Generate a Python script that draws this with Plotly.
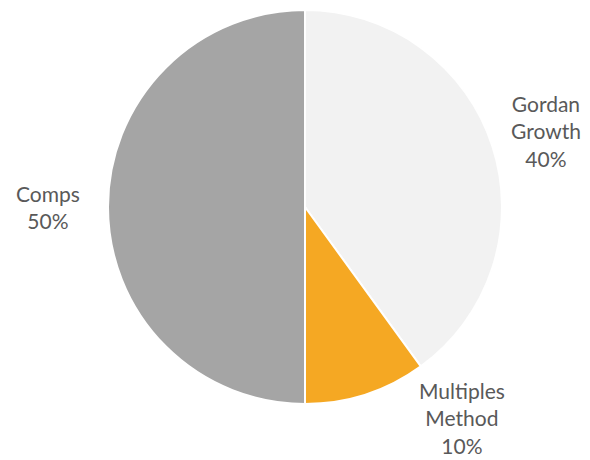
import plotly.graph_objects as go

labels = ["Gordan Growth", "Multiples Method", "Comps"]
label_lines = ["Gordan<br>Growth", "Multiples<br>Method", "Comps"]
values = [40, 10, 50]
colors = ["#F2F2F2", "#F5A823", "#A5A5A5"]

W, H = 590, 460
cx, cy, r = 305, 207, 197
# label anchor points (pixels) for outside labels
label_px = [(546, 131), (462, 418), (48, 207)]

fig = go.Figure(go.Pie(
    labels=labels, values=values, sort=False, direction="clockwise", rotation=0,
    marker=dict(colors=colors, line=dict(color="white", width=2)),
    textinfo="none", hoverinfo="label+percent", showlegend=False,
    domain=dict(x=[(cx - r) / W, (cx + r) / W], y=[1 - (cy + r) / H, 1 - (cy - r) / H]),
))

total = sum(values)
for txt, v, (px, py) in zip(label_lines, values, label_px):
    fig.add_annotation(
        x=px / W, y=1 - py / H, xref="paper", yref="paper", showarrow=False,
        xanchor="center", yanchor="middle",
        text=f"{txt}<br>{round(100 * v / total)}%",
        font=dict(family="Lato", size=21, color="#595959"), align="center",
    )

fig.update_layout(
    width=W, height=H, margin=dict(l=0, r=0, t=0, b=0),
    paper_bgcolor="white", plot_bgcolor="white",
)
fig.write_html("out.html")
